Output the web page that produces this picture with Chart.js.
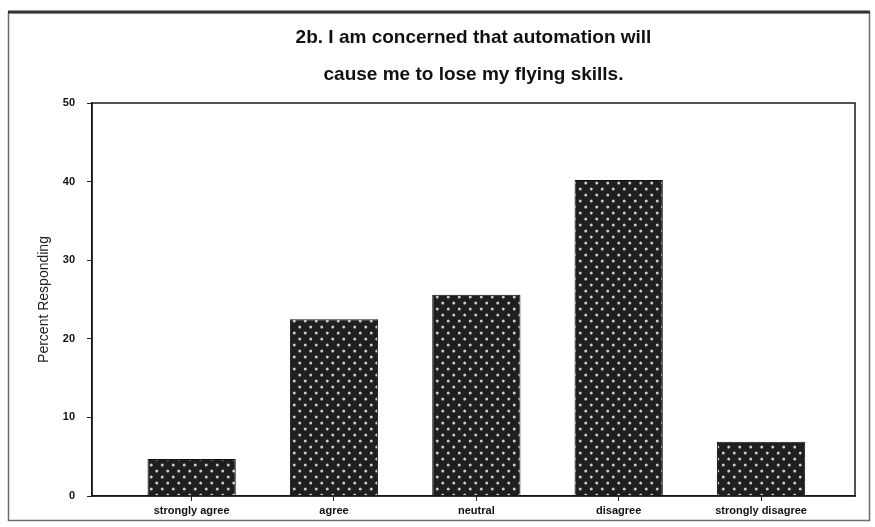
<!DOCTYPE html>
<html>
<head>
<meta charset="utf-8">
<script src="https://cdn.jsdelivr.net/npm/chart.js@4.4.1/dist/chart.umd.min.js"></script>
<style>
  html, body { margin: 0; padding: 0; background: #ffffff; }
  #wrap { width: 875px; height: 527px; position: relative; }
</style>
</head>
<body>
<div id="wrap"><canvas id="c" width="875" height="527"></canvas></div>
<script>
// ---- data ----
const categories = ["strongly agree", "agree", "neutral", "disagree", "strongly disagree"];
const percentResponding = [4.7, 22.5, 25.6, 40.2, 6.9];
const yTicks = [0, 10, 20, 30, 40, 50];
const titleLines = ["2b. I am concerned that automation will", "cause me to lose my flying skills."];
const yAxisTitle = "Percent Responding";

// ---- dotted pattern fill ----
function makePattern() {
  const p = document.createElement("canvas");
  p.width = 11; p.height = 12;
  const g = p.getContext("2d");
  g.fillStyle = "#1f1f1f";
  g.fillRect(0, 0, 11, 12);
  g.fillStyle = "#cccccc";
  [[2.75, 3], [8.25, 9]].forEach(([x, y]) => {
    g.beginPath(); g.arc(x, y, 1.5, 0, Math.PI * 2); g.fill();
  });
  return document.getElementById("c").getContext("2d").createPattern(p, "repeat");
}

const framePlugin = {
  id: "frame",
  beforeDraw(chart) {
    const ctx = chart.ctx;
    ctx.save();
    ctx.fillStyle = "#ffffff";
    ctx.fillRect(0, 0, chart.width, chart.height);
    ctx.strokeStyle = "#6a6a6a";
    ctx.lineWidth = 1.5;
    ctx.strokeRect(8.5, 12.5, 861, 508);
    ctx.strokeStyle = "#333333";
    ctx.lineWidth = 3;
    ctx.beginPath(); ctx.moveTo(8, 12); ctx.lineTo(870, 12); ctx.stroke();
    ctx.restore();
  },
  afterDatasetsDraw(chart) {
    const a = chart.chartArea, ctx = chart.ctx;
    ctx.save();
    ctx.strokeStyle = "#1a1a1a";
    ctx.lineWidth = 1.5;
    ctx.strokeRect(a.left, a.top, a.right - a.left, a.bottom - a.top);
    ctx.restore();
  }
};

const pattern = makePattern();
const FONT = "'Liberation Sans', Arial, sans-serif";

new Chart(document.getElementById("c"), {
  type: "bar",
  data: {
    datasets: [{
      data: percentResponding.map((v, i) => ({ x: i, y: v })),
      backgroundColor: pattern,
      borderColor: "#111111",
      borderWidth: 1,
      barPercentage: 0.62,
      categoryPercentage: 1.0
    }]
  },
  options: {
    responsive: false,
    animation: false,
    devicePixelRatio: 1,
    layout: { padding: { left: 0, right: 20, top: 0, bottom: 0 } },
    plugins: {
      legend: { display: false },
      tooltip: { enabled: false },
      title: {
        display: true,
        text: titleLines,
        fullSize: false,
        color: "#111111",
        font: { family: FONT, size: 19, weight: "bold", lineHeight: 37 / 19 },
        padding: { top: 19, bottom: 10 }
      }
    },
    scales: {
      x: {
        type: "linear",
        offset: false,
        min: -0.70,
        max: 4.66,
        afterBuildTicks(scale) { scale.ticks = categories.map((_, i) => ({ value: i })); },
        afterFit(scale) { scale.height = 31; },
        ticks: {
          autoSkip: false,
          maxRotation: 0,
          padding: 3,
          color: "#111111",
          font: { family: FONT, size: 11, weight: "bold" },
          callback: (v) => categories[v]
        },
        grid: { display: true, offset: false, drawOnChartArea: false, drawTicks: true, tickLength: 5, color: "#222222" },
        border: { display: true, color: "#111111", width: 1.5 }
      },
      y: {
        min: 0,
        max: 50,
        afterBuildTicks(scale) { scale.ticks = yTicks.map(v => ({ value: v })); },
        afterFit(scale) { scale.width = 92; },
        ticks: {
          padding: 12,
          color: "#111111",
          font: { family: FONT, size: 11, weight: "bold" }
        },
        grid: { display: true, drawOnChartArea: false, drawTicks: true, tickLength: 5, color: "#222222" },
        border: { display: true, color: "#111111", width: 1.5 },
        title: {
          display: true,
          text: yAxisTitle,
          color: "#222222",
          font: { family: FONT, size: 14 },
          padding: { top: 36, bottom: 0 }
        }
      }
    }
  },
  plugins: [framePlugin]
});
</script>
</body>
</html>
